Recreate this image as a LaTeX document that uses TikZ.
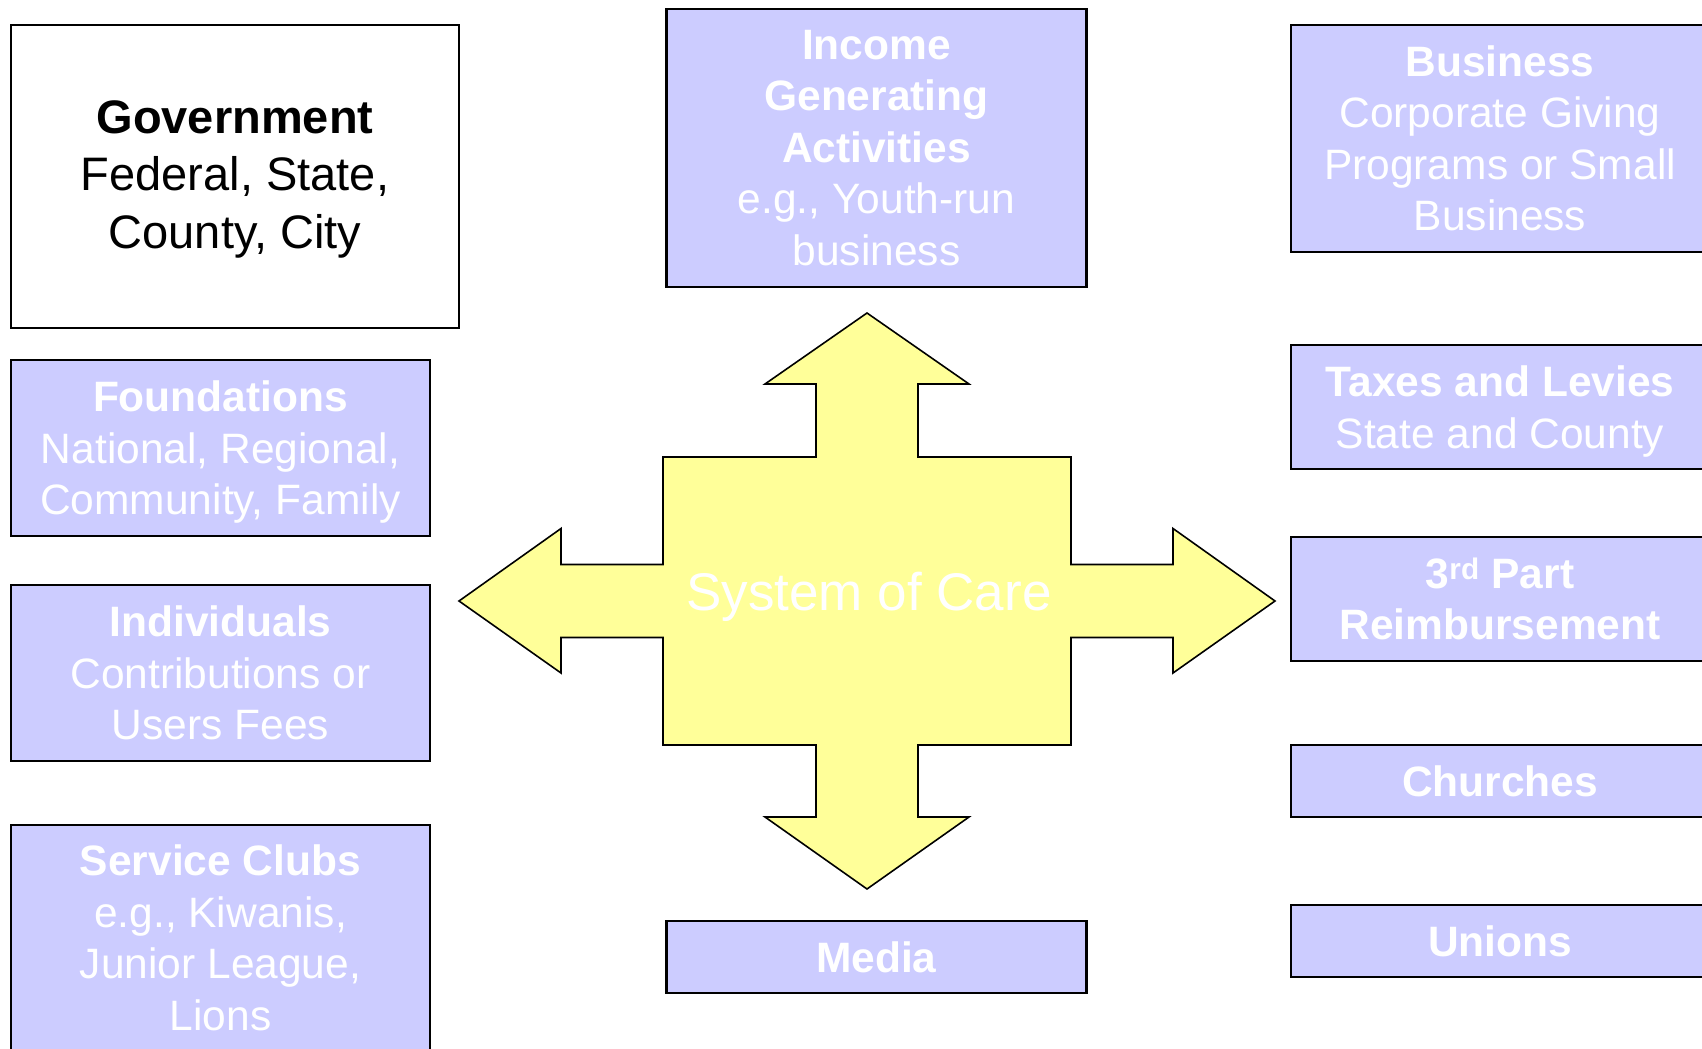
\documentclass[tikz,border=0pt]{standalone}
\usepackage{fontspec}
\setmainfont{Liberation Sans}
\definecolor{boxfill}{HTML}{CCCCFF}
\definecolor{crossfill}{HTML}{FFFF99}
\newcommand\nodepth[1]{\raisebox{0pt}[\height][0pt]{#1}}
\newcommand\somedepth[1]{\raisebox{0pt}[\height][4.5pt]{#1}}
\begin{document}
\begin{tikzpicture}[x=1pt,y=-1pt,
  srcbox/.style={draw=black, line width=2.2pt, fill=boxfill, text=white, align=center,
    font=\fontsize{42.5}{51.5}\selectfont, inner sep=0pt},
  govbox/.style={draw=black, line width=2.2pt, fill=white, text=black, align=center,
    font=\fontsize{47}{57.5}\selectfont, inner sep=0pt},
  crossshape/.style={draw=black, line width=1.6pt, fill=crossfill, line join=miter},
  crosslabel/.style={text=white, font=\fontsize{53}{60}\selectfont, inner sep=0pt}]
\useasboundingbox (0,0) rectangle (1702,1049);

% central cross
\draw[crossshape] (867,313) -- (969,384) -- (918,384) -- (918,457) -- (1071,457) -- (1071,564.5)
  -- (1173,564.5) -- (1173,528.5) -- (1275,601) -- (1173,673) -- (1173,637.5) -- (1071,637.5)
  -- (1071,745) -- (918,745) -- (918,817) -- (969,817) -- (867,889) -- (765,817) -- (816,817)
  -- (816,745) -- (663,745) -- (663,637.5) -- (561,637.5) -- (561,673) -- (459,601)
  -- (561,528.5) -- (561,564.5) -- (663,564.5) -- (663,457) -- (816,457) -- (816,384)
  -- (765,384) -- cycle;
\node[crosslabel, anchor=base] (soc) at (869,610) {System of Care};

% left column
\node[govbox, minimum width=448, minimum height=303] (gov) at (235,176.5)
  {\textbf{Government}\\Federal, State,\\\somedepth{County, City}};
\node[srcbox, minimum width=419, minimum height=176] (found) at (220.5,448)
  {\textbf{Foundations}\\National, Regional,\\\nodepth{Community, Family}};
\node[srcbox, minimum width=419, minimum height=176] (indiv) at (220.5,673)
  {\textbf{Individuals}\\Contributions or\\Users Fees};
\node[srcbox, minimum width=419, minimum height=226] (clubs) at (220.5,938)
  {\textbf{Service Clubs}\\e.g., Kiwanis,\\Junior League,\\Lions};

% middle column
\node[srcbox, minimum width=420, minimum height=278] (income) at (876.5,148)
  {\textbf{Income}\\\textbf{Generating}\\\textbf{Activities}\\e.g., Youth-run\\business};
\node[srcbox, minimum width=420, minimum height=72] (media) at (876.5,957)
  {\textbf{Media}};

% right column
\node[srcbox, minimum width=418, minimum height=227] (business) at (1500,138.5)
  {\textbf{Business}\\Corporate Giving\\Programs or Small\\Business};
\node[srcbox, minimum width=418, minimum height=124] (taxes) at (1500,407)
  {\textbf{Taxes and Levies}\\\nodepth{State and County}};
\node[srcbox, minimum width=418, minimum height=124] (third) at (1500,599)
  {\textbf{3\textsuperscript{rd} Part}\\\textbf{Reimbursement}};
\node[srcbox, minimum width=418, minimum height=72] (churches) at (1500,781)
  {\textbf{Churches}};
\node[srcbox, minimum width=418, minimum height=72] (unions) at (1500,941)
  {\textbf{Unions}};
\end{tikzpicture}
\end{document}
